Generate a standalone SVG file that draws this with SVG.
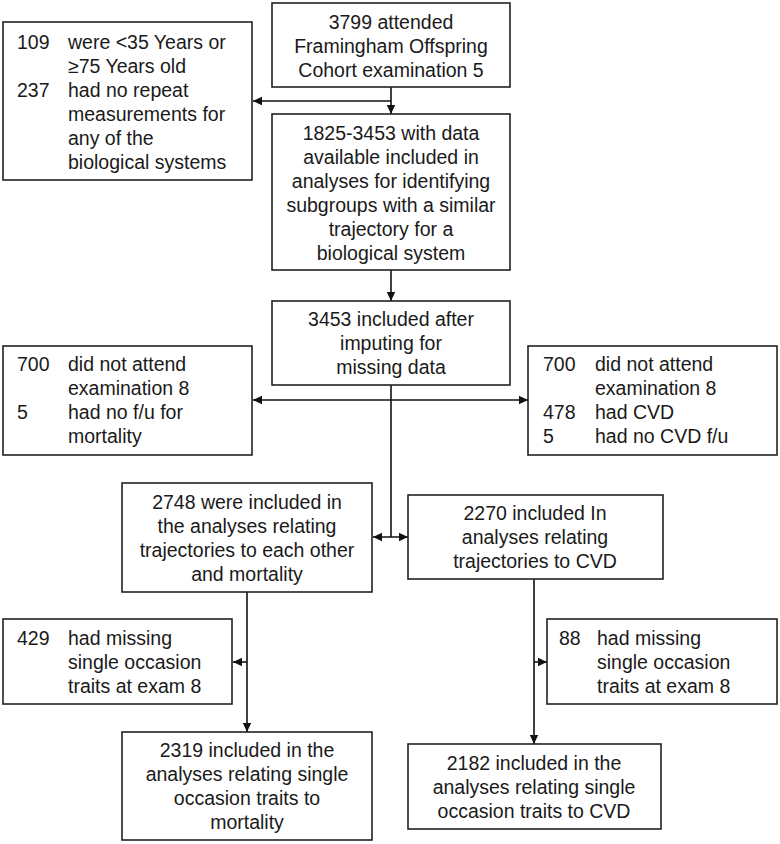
<svg xmlns="http://www.w3.org/2000/svg" width="780" height="844" viewBox="0 0 780 844">
<style>
  .box { fill: #ffffff; stroke: #222222; stroke-width: 1.6; }
  .t { font-family: "Liberation Sans", Arial, sans-serif; font-size: 19.5px; fill: #1a1a1a; }
  .c { text-anchor: middle; }
  .ln { stroke: #111111; stroke-width: 1.6; fill: none; }
</style>
<defs>
  <marker id="ah" markerWidth="10" markerHeight="10" refX="9" refY="5" orient="auto" markerUnits="userSpaceOnUse">
    <path d="M0,0.8 L9,5 L0,9.2 Z" fill="#111111"/>
  </marker>
  <marker id="ahs" markerWidth="10" markerHeight="10" refX="9" refY="5" orient="auto-start-reverse" markerUnits="userSpaceOnUse">
    <path d="M0,0.8 L9,5 L0,9.2 Z" fill="#111111"/>
  </marker>
</defs>
<rect width="780" height="844" fill="#ffffff"/>

<g id="connectors">
  <line class="ln" x1="391" y1="87" x2="391" y2="114" marker-end="url(#ah)"/>
  <line class="ln" x1="391" y1="101" x2="253" y2="101" marker-end="url(#ah)"/>
  <line class="ln" x1="391" y1="270" x2="391" y2="301" marker-end="url(#ah)"/>
  <line class="ln" x1="391" y1="385" x2="391" y2="537"/>
  <line class="ln" x1="253" y1="400" x2="528" y2="400" marker-start="url(#ahs)" marker-end="url(#ahs)"/>
  <line class="ln" x1="373" y1="537" x2="408" y2="537" marker-start="url(#ahs)" marker-end="url(#ahs)"/>
  <line class="ln" x1="247" y1="592" x2="247" y2="732" marker-end="url(#ah)"/>
  <line class="ln" x1="247" y1="662" x2="233" y2="662" marker-end="url(#ah)"/>
  <line class="ln" x1="534" y1="579" x2="534" y2="744" marker-end="url(#ah)"/>
  <line class="ln" x1="534" y1="662" x2="547" y2="662" marker-end="url(#ah)"/>
</g>

<g id="n_attended">
  <rect class="box" x="272" y="3" width="238" height="84"/>
  <text class="t c" x="391" y="29">3799 attended</text>
  <text class="t c" x="391" y="53">Framingham Offspring</text>
  <text class="t c" x="391" y="77">Cohort examination 5</text>
</g>

<g id="n_excluded1">
  <rect class="box" x="3" y="22" width="249" height="158"/>
  <text class="t" x="17" y="49">109</text>
  <text class="t" x="68" y="49">were &lt;35 Years or</text>
  <text class="t" x="68" y="73">≥75 Years old</text>
  <text class="t" x="17" y="97">237</text>
  <text class="t" x="68" y="97">had no repeat</text>
  <text class="t" x="68" y="121">measurements for</text>
  <text class="t" x="68" y="145">any of the</text>
  <text class="t" x="68" y="169">biological systems</text>
</g>

<g id="n_subgroups">
  <rect class="box" x="272" y="114" width="238" height="156"/>
  <text class="t c" x="391" y="140">1825-3453 with data</text>
  <text class="t c" x="391" y="164">available included in</text>
  <text class="t c" x="391" y="188">analyses for identifying</text>
  <text class="t c" x="391" y="212">subgroups with a similar</text>
  <text class="t c" x="391" y="236">trajectory for a</text>
  <text class="t c" x="391" y="260">biological system</text>
</g>

<g id="n_imputed">
  <rect class="box" x="272" y="301" width="238" height="84"/>
  <text class="t c" x="391" y="326">3453 included after</text>
  <text class="t c" x="391" y="350">imputing for</text>
  <text class="t c" x="391" y="374">missing data</text>
</g>

<g id="n_excluded_mort">
  <rect class="box" x="3" y="346" width="249" height="109"/>
  <text class="t" x="17" y="371">700</text>
  <text class="t" x="68" y="371">did not attend</text>
  <text class="t" x="68" y="395">examination 8</text>
  <text class="t" x="17" y="419">5</text>
  <text class="t" x="68" y="419">had no f/u for</text>
  <text class="t" x="68" y="443">mortality</text>
</g>

<g id="n_excluded_cvd">
  <rect class="box" x="528" y="346" width="249" height="109"/>
  <text class="t" x="543" y="371">700</text>
  <text class="t" x="595" y="371">did not attend</text>
  <text class="t" x="595" y="395">examination 8</text>
  <text class="t" x="543" y="419">478</text>
  <text class="t" x="595" y="419">had CVD</text>
  <text class="t" x="543" y="443">5</text>
  <text class="t" x="595" y="443">had no CVD f/u</text>
</g>

<g id="n_traj_mort">
  <rect class="box" x="122" y="483" width="250" height="109"/>
  <text class="t c" x="247" y="509">2748 were included in</text>
  <text class="t c" x="247" y="533">the analyses relating</text>
  <text class="t c" x="247" y="557">trajectories to each other</text>
  <text class="t c" x="247" y="581">and mortality</text>
</g>

<g id="n_traj_cvd">
  <rect class="box" x="408" y="495" width="255" height="84"/>
  <text class="t c" x="535" y="520">2270 included In</text>
  <text class="t c" x="535" y="544">analyses relating</text>
  <text class="t c" x="535" y="568">trajectories to CVD</text>
</g>

<g id="n_missing_mort">
  <rect class="box" x="3" y="619" width="229" height="85"/>
  <text class="t" x="17" y="645">429</text>
  <text class="t" x="68" y="645">had missing</text>
  <text class="t" x="68" y="669">single occasion</text>
  <text class="t" x="68" y="693">traits at exam 8</text>
</g>

<g id="n_missing_cvd">
  <rect class="box" x="547" y="619" width="230" height="85"/>
  <text class="t" x="559" y="645">88</text>
  <text class="t" x="597" y="645">had missing</text>
  <text class="t" x="597" y="669">single occasion</text>
  <text class="t" x="597" y="693">traits at exam 8</text>
</g>

<g id="n_single_mort">
  <rect class="box" x="122" y="732" width="250" height="108"/>
  <text class="t c" x="247" y="757">2319 included in the</text>
  <text class="t c" x="247" y="781">analyses relating single</text>
  <text class="t c" x="247" y="805">occasion traits to</text>
  <text class="t c" x="247" y="829">mortality</text>
</g>

<g id="n_single_cvd">
  <rect class="box" x="408" y="744" width="253" height="85"/>
  <text class="t c" x="534" y="770">2182 included in the</text>
  <text class="t c" x="534" y="794">analyses relating single</text>
  <text class="t c" x="534" y="818">occasion traits to CVD</text>
</g>
</svg>
